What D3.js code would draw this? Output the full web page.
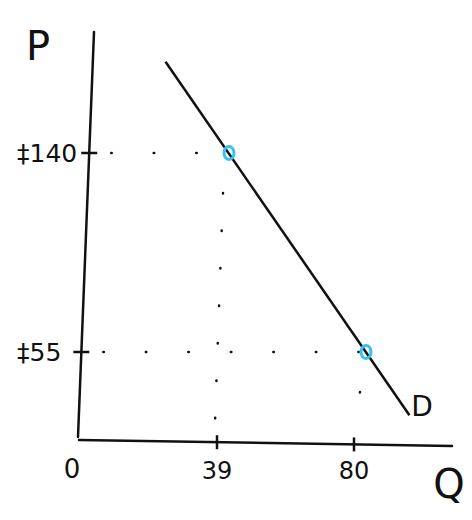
<!DOCTYPE html>
<html>
<head>
<meta charset="utf-8">
<script src="https://cdn.jsdelivr.net/npm/d3@7"></script>
<style>
	body { margin: 0; background: #fff; }
	text { font-family: "DejaVu Sans", sans-serif; fill: #111; }
</style>
</head>
<body>
<svg id="chart" width="472" height="520"></svg>
<script>
// values
const qTicks = [39, 80];
const pTicks = [140, 55];
const pLabels = ["‡140", "‡55"];
const points = [{q: 39, p: 140}, {q: 80, p: 55}];
const demandEnds = [{q: 20, p: 179}, {q: 93, p: 28}];

const svg = d3.select("#chart");

// sketch is not to scale, so the scales are anchored on the two marked points
const x = d3.scaleLinear().domain([39, 80]).range([229, 366]);
const y = d3.scaleLinear().domain([55, 140]).range([352, 153]);

// hand drawn axes lean a little
const yAxisX = d3.scaleLinear().domain([32, 437]).range([94, 78]);
const xAxisY = d3.scaleLinear().domain([79, 452]).range([440, 446]);

const ink = "#111";

svg.append("path")
	.attr("d", d3.line()([[yAxisX(32), 32], [yAxisX(437), 437]]))
	.attr("stroke", ink).attr("stroke-width", 2.5).attr("fill", "none").attr("stroke-linecap", "round");

svg.append("path")
	.attr("d", d3.line()([[79, xAxisY(79)], [452, xAxisY(452)]]))
	.attr("stroke", ink).attr("stroke-width", 2.5).attr("fill", "none").attr("stroke-linecap", "round");

// dotted guides
const guides = svg.append("g")
	.attr("stroke", ink).attr("stroke-width", 2.5).attr("stroke-linecap", "round").attr("fill", "none");

points.forEach(d => {
	const px = x(d.q), py = y(d.p);
	guides.append("line")
		.attr("x1", yAxisX(py) + 22).attr("y1", py)
		.attr("x2", px - 6).attr("y2", py)
		.attr("stroke-dasharray", "0.5,42");
	guides.append("line")
		.attr("x1", px - 6).attr("y1", py + 40)
		.attr("x2", px - 14).attr("y2", xAxisY(px) - 20)
		.attr("stroke-dasharray", "0.5,37");
});

// ticks on the P axis
svg.append("g").selectAll("line")
	.data(pTicks)
	.join("line")
	.attr("x1", d => yAxisX(y(d)) - 8).attr("x2", d => yAxisX(y(d)) + 8)
	.attr("y1", d => y(d)).attr("y2", d => y(d))
	.attr("stroke", ink).attr("stroke-width", 2.5);

svg.append("g").selectAll("text")
	.data(pTicks)
	.join("text")
	.attr("x", (d, i) => yAxisX(y(d)) - (i === 0 ? 12 : 20))
	.attr("y", d => y(d) + 9)
	.attr("text-anchor", "end")
	.attr("font-size", 25)
	.text((d, i) => pLabels[i]);

// ticks on the Q axis
const qTickX = d => x(d) - 12;
svg.append("g").selectAll("line")
	.data(qTicks)
	.join("line")
	.attr("x1", qTickX).attr("x2", qTickX)
	.attr("y1", d => xAxisY(qTickX(d)) - 7).attr("y2", d => xAxisY(qTickX(d)) + 7)
	.attr("stroke", ink).attr("stroke-width", 2.5);

svg.append("g").selectAll("text")
	.data(qTicks)
	.join("text")
	.attr("x", qTickX)
	.attr("y", 479)
	.attr("text-anchor", "middle")
	.attr("font-size", 24)
	.text(d => d);

// demand curve
svg.append("path")
	.datum(demandEnds)
	.attr("d", d3.line().x(d => x(d.q)).y(d => y(d.p)))
	.attr("stroke", ink).attr("stroke-width", 2.5).attr("fill", "none");

svg.append("g").selectAll("ellipse")
	.data(points)
	.join("ellipse")
	.attr("cx", d => x(d.q)).attr("cy", d => y(d.p))
	.attr("rx", 5).attr("ry", 6.5)
	.attr("fill", "none").attr("stroke", "#33c3f0").attr("stroke-width", 3);

// letters
svg.append("text").attr("x", 38).attr("y", 60).attr("font-size", 40).attr("text-anchor", "middle").text("P");
svg.append("text").attr("x", 449).attr("y", 498).attr("font-size", 40).attr("text-anchor", "middle").text("Q");
svg.append("text").attr("x", 422).attr("y", 416).attr("font-size", 28).attr("text-anchor", "middle").text("D");
svg.append("text").attr("x", 72).attr("y", 478).attr("font-size", 26).attr("text-anchor", "middle").text("0");
</script>
</body>
</html>
